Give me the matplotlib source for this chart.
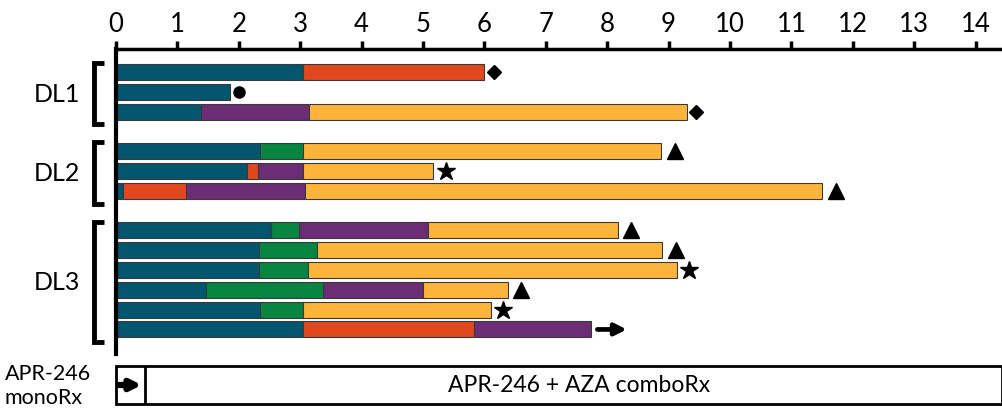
import matplotlib
matplotlib.use("Agg")
import matplotlib.pyplot as plt
from matplotlib.patches import Rectangle

plt.rcParams['font.family'] = ['Lato', 'DejaVu Sans']

# ---- data ----
groups = ['DL1', 'DL2', 'DL3']
group_rows = [[0, 1, 2], [3, 4, 5], [6, 7, 8, 9, 10, 11]]
row_pos = [0, 1, 2, 4, 5, 6, 8, 9, 10, 11, 12, 13]

seg_ends = [
    [3.05, 6.0],
    [1.85],
    [1.38, 3.15, 9.3],
    [2.35, 3.05, 8.88],
    [2.14, 2.32, 3.05, 5.17],
    [0.11, 1.14, 3.08, 11.5],
    [2.53, 2.98, 5.08, 8.17],
    [2.33, 3.27, 8.9],
    [2.33, 3.13, 9.13],
    [1.46, 3.37, 5.0, 6.38],
    [2.35, 3.05, 6.1],
    [3.05, 5.83, 7.74],
]
seg_kind = [
    ['teal', 'orange'],
    ['teal'],
    ['teal', 'purple', 'yellow'],
    ['teal', 'green', 'yellow'],
    ['teal', 'orange', 'purple', 'yellow'],
    ['teal', 'orange', 'purple', 'yellow'],
    ['teal', 'green', 'purple', 'yellow'],
    ['teal', 'green', 'yellow'],
    ['teal', 'green', 'yellow'],
    ['teal', 'green', 'purple', 'yellow'],
    ['teal', 'green', 'yellow'],
    ['teal', 'orange', 'purple'],
]
end_marker = ['D', 'o', 'D', '^', '*', '^', '^', '^', '*', '^', '*', 'arrow']

xticks = list(range(0, 15))
mono_end = 0.47
combo_label = 'APR-246 + AZA comboRx'
mono_label = 'APR-246\nmonoRx'

palette = {'teal': '#03566E', 'orange': '#E0481E', 'purple': '#6B2D73',
           'yellow': '#FDB43A', 'green': '#088540'}
msize = {'D': 7, 'o': 8, '^': 11, '*': 13.5}
moff = {'D': 0.15, 'o': 0.15, '^': 0.22, '*': 0.2}

W, H = 1002, 410
fig = plt.figure(figsize=(W / 100, H / 100), dpi=100)
x0 = 116
ax = fig.add_axes([x0 / W, 1 - 355 / H, 1 - x0 / W, (355 - 50) / H])
xmax = (W - x0) / 61.4
ax.set_xlim(0, xmax)
ax.set_ylim(14.24, -1.16)

bh = 0.81
for i, (ends, kinds) in enumerate(zip(seg_ends, seg_kind)):
    y = row_pos[i]
    start = 0
    for e, k in zip(ends, kinds):
        ax.barh(y, e - start, left=start, height=bh, color=palette[k],
                edgecolor='#3a3a3a', linewidth=0.8)
        start = e
    m = end_marker[i]
    if m == 'arrow':
        ax.annotate('', xy=(start + 0.58, y), xytext=(start + 0.1, y),
                    arrowprops=dict(arrowstyle='-|>', lw=3.4, color='k',
                                    mutation_scale=17, shrinkA=0, shrinkB=0))
    else:
        ax.plot(start + moff[m], y, marker=m, ms=msize[m], color='k', ls='none')

# group labels & brackets
for g, rows in zip(groups, group_rows):
    ytop = row_pos[rows[0]] - 0.45
    ybot = row_pos[rows[-1]] + 0.65
    xb, xt = -0.36, -0.2
    ax.plot([xt, xb, xb, xt], [ytop, ytop, ybot, ybot], color='k', lw=3.5,
            clip_on=False, solid_capstyle='butt', solid_joinstyle='miter')
    ax.text(-0.58, (ytop + ybot) / 2, g, ha='right', va='center', fontsize=18)

# axes styling
for s in ['right', 'bottom']:
    ax.spines[s].set_visible(False)
ax.spines['top'].set_linewidth(2.5)
ax.spines['left'].set_linewidth(3)
ax.xaxis.tick_top()
ax.set_xticks(xticks)
ax.tick_params(axis='x', direction='out', length=6, width=2.5, labelsize=18.5, pad=3)
ax.set_yticks([])

# bottom treatment box
bx = fig.add_axes([x0 / W, 1 - 405 / H, 1 - x0 / W, 38 / H])
bx.set_xlim(0, xmax)
bx.set_ylim(0, 1)
bx.axis('off')
bx.add_patch(Rectangle((0, 0), xmax, 1, fill=False, lw=2, edgecolor='k', clip_on=False))
bx.plot([mono_end, mono_end], [0, 1], color='k', lw=2)
bx.annotate('', xy=(mono_end - 0.05, 0.5), xytext=(0.04, 0.5),
            arrowprops=dict(arrowstyle='-|>', lw=4.5, color='k', mutation_scale=15,
                            shrinkA=0, shrinkB=0))
bx.text((mono_end + xmax) / 2 + 0.09, 0.5, combo_label, ha='center', va='center', fontsize=16.5)
fig.text(5 / W, 1 - 386 / H, mono_label, ha='left', va='center', fontsize=15.5,
         linespacing=1.2)

fig.savefig('out.png', dpi=100)
